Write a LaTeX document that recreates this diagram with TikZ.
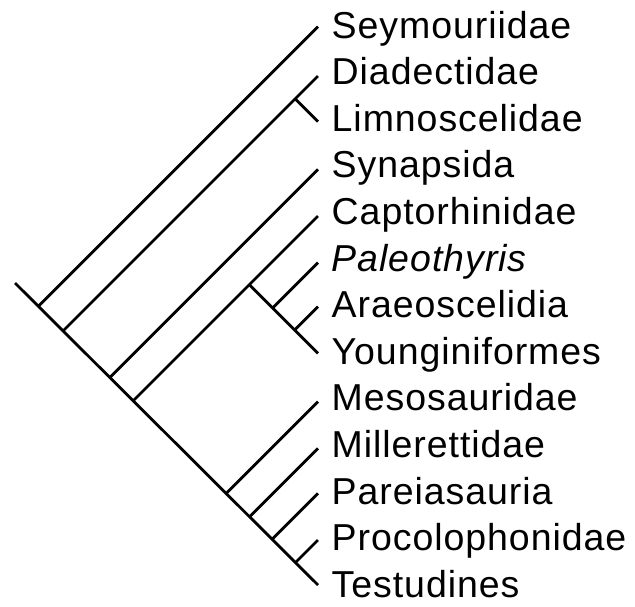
\documentclass[tikz,border=0pt]{standalone}
\usepackage{fontspec}
\setmainfont[LetterSpace=2.5]{Liberation Sans}
\begin{document}
\begin{tikzpicture}[x=1pt,y=-1pt,
  branch/.style={line width=2.8pt, line cap=butt},
  taxon/.style={anchor=base west, inner sep=0pt, font=\fontsize{37.5}{44}\selectfont}]
\useasboundingbox (0,0) rectangle (635,606);

% branch tips
\coordinate (seym)  at (318,26.7);
\coordinate (diad)  at (318,76);
\coordinate (limn)  at (318,121.7);
\coordinate (syna)  at (318,169.3);
\coordinate (capt)  at (318,216);
\coordinate (pale)  at (318,262.7);
\coordinate (arae)  at (318,306.7);
\coordinate (youn)  at (318,353.3);
\coordinate (meso)  at (318,401.7);
\coordinate (mill)  at (318,448.3);
\coordinate (pare)  at (318,493.3);
\coordinate (proc)  at (318,540);
\coordinate (test)  at (318,585);

% internal nodes
\coordinate (root)   at (15,283);
\coordinate (nSeym)  at (38.35,306.35);
\coordinate (nDiad)  at (63,331);
\coordinate (nLimn)  at (295.15,98.85);
\coordinate (nSyna)  at (109.65,377.65);
\coordinate (nCapt)  at (133,401);
\coordinate (nYoun)  at (249.35,284.65);
\coordinate (nPale)  at (272.7,308);
\coordinate (nArae)  at (294.7,330);
\coordinate (nMeso)  at (225.85,493.85);
\coordinate (nMill)  at (249.15,517.15);
\coordinate (nPare)  at (271.65,539.65);
\coordinate (nProc)  at (295,563);

% taxon labels
\node[taxon] (lSeym) at (331.5,38)    {Seymouriidae};
\node[taxon] (lDiad) at (331.5,84.6)  {Diadectidae};
\node[taxon] (lLimn) at (331.5,131.2) {Limnoscelidae};
\node[taxon] (lSyna) at (331.5,177.8) {Synapsida};
\node[taxon] (lCapt) at (331.5,224.4) {Captorhinidae};
\node[taxon] (lPale) at (331.5,271)   {\itshape Paleothyris};
\node[taxon] (lArae) at (331.5,317.6) {Araeoscelidia};
\node[taxon] (lYoun) at (331.5,364.2) {Younginiformes};
\node[taxon] (lMeso) at (331.5,410.8) {Mesosauridae};
\node[taxon] (lMill) at (331.5,457.4) {Millerettidae};
\node[taxon] (lPare) at (331.5,504)   {Pareiasauria};
\node[taxon] (lProc) at (331.5,550.6) {Procolophonidae};
\node[taxon] (lTest) at (331.5,597.2) {Testudines};

% main stem
\draw[branch] (root) -- (test);
% side branches
\draw[branch] (nSeym) -- (seym);
\draw[branch] (nDiad) -- (diad);
\draw[branch] (nLimn) -- (limn);
\draw[branch] (nSyna) -- (syna);
\draw[branch] (nCapt) -- (capt);
\draw[branch] (nYoun) -- (youn);
\draw[branch] (nPale) -- (pale);
\draw[branch] (nArae) -- (arae);
\draw[branch] (nMeso) -- (meso);
\draw[branch] (nMill) -- (mill);
\draw[branch] (nPare) -- (pare);
\draw[branch] (nProc) -- (proc);
\end{tikzpicture}
\end{document}
